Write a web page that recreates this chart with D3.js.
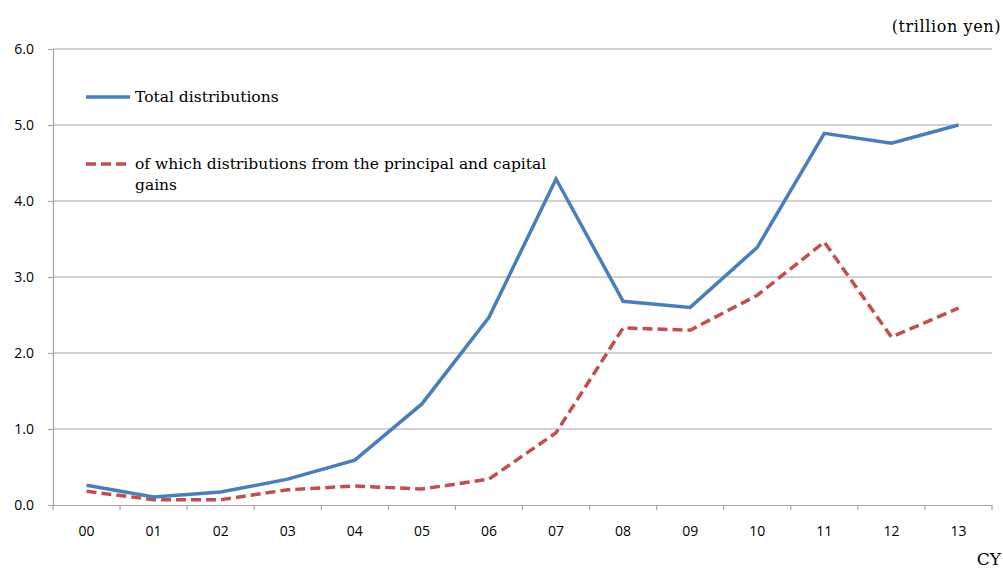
<!DOCTYPE html>
<html>
<head>
<meta charset="utf-8">
<script src="https://cdn.jsdelivr.net/npm/d3@7"></script>
<style>
  body { margin: 0; background: #fff; }
  .tick text { font-family: "Open Sans", "Noto Sans", sans-serif; font-size: 14px; fill: #000; }
  .serif { font-family: "DejaVu Serif", "Liberation Serif", serif; font-size: 15.5px; fill: #000; }
</style>
</head>
<body>
<script>
// Distributions of investment trusts, trillion yen
var years = ["00","01","02","03","04","05","06","07","08","09","10","11","12","13"];
var total = [0.26, 0.105, 0.17, 0.34, 0.59, 1.33, 2.47, 4.29, 2.68, 2.6, 3.39, 4.89, 4.76, 5.0];
var principal = [0.18, 0.07, 0.07, 0.2, 0.25, 0.21, 0.34, 0.95, 2.33, 2.3, 2.76, 3.46, 2.21, 2.59];
var y_ticks = [0, 1, 2, 3, 4, 5, 6];

var width = 1003, height = 570;
var plot_left = 53, plot_right = 992, plot_top = 49, plot_bottom = 505;
var axis_color = "#a6a6a6";

var svg = d3.select("body").append("svg")
    .attr("width", width)
    .attr("height", height);

var x = d3.scaleBand().domain(years).range([plot_left, plot_right]);
var y = d3.scaleLinear().domain([0, 6]).range([plot_bottom, plot_top]);

// grid lines
svg.append("g").selectAll("line")
    .data(y_ticks.filter(function (d) { return d > 0; }))
    .enter().append("line")
    .attr("x1", plot_left).attr("x2", plot_right)
    .attr("y1", function (d) { return y(d); })
    .attr("y2", function (d) { return y(d); })
    .attr("stroke", axis_color).attr("stroke-width", 1.2);

// y axis
var yAxis = svg.append("g")
    .attr("transform", "translate(" + plot_left + ",0)")
    .call(d3.axisLeft(y).tickValues(y_ticks).tickFormat(d3.format(".1f")).tickSize(5).tickPadding(14));
yAxis.selectAll("line, path").attr("stroke", axis_color).attr("stroke-width", 1.2);

// x axis, ticks between categories
var xAxis = svg.append("g")
    .attr("transform", "translate(0," + plot_bottom + ")")
    .call(d3.axisBottom(x).tickSize(0).tickPadding(21));
xAxis.select("path").attr("stroke", axis_color).attr("stroke-width", 1.2);

var bounds = years.map(function (d) { return x(d); }).concat([plot_right]);
svg.append("g").selectAll("line")
    .data(bounds)
    .enter().append("line")
    .attr("x1", function (d) { return d; }).attr("x2", function (d) { return d; })
    .attr("y1", plot_bottom).attr("y2", plot_bottom + 5)
    .attr("stroke", axis_color).attr("stroke-width", 1.2);

var line = d3.line()
    .x(function (d, i) { return x(years[i]) + x.bandwidth() / 2; })
    .y(function (d) { return y(d); });

svg.append("path").datum(principal)
    .attr("d", line)
    .attr("fill", "none")
    .attr("stroke", "#c0504d")
    .attr("stroke-width", 3.5)
    .attr("stroke-dasharray", "10,5");

svg.append("path").datum(total)
    .attr("d", line)
    .attr("fill", "none")
    .attr("stroke", "#4a7ebb")
    .attr("stroke-width", 3.5);

// legend
svg.append("line")
    .attr("x1", 86).attr("x2", 130).attr("y1", 97).attr("y2", 97)
    .attr("stroke", "#4a7ebb").attr("stroke-width", 3.5);
svg.append("text").attr("class", "serif")
    .attr("x", 135).attr("y", 102).text("Total distributions");

svg.append("line")
    .attr("x1", 86).attr("x2", 128).attr("y1", 164).attr("y2", 164)
    .attr("stroke", "#c0504d").attr("stroke-width", 3.5)
    .attr("stroke-dasharray", "10,5");
svg.append("text").attr("class", "serif")
    .attr("x", 135).attr("y", 169).text("of which distributions from the principal and capital");
svg.append("text").attr("class", "serif")
    .attr("x", 135).attr("y", 190).text("gains");

// units
svg.append("text").attr("class", "serif")
    .attr("x", 1001).attr("y", 32).attr("text-anchor", "end")
    .style("font-size", "16px").style("letter-spacing", "0.6px").text("(trillion yen)");
svg.append("text").attr("class", "serif")
    .attr("x", 1001).attr("y", 565).attr("text-anchor", "end").style("font-size", "17px").text("CY");
</script>
</body>
</html>
